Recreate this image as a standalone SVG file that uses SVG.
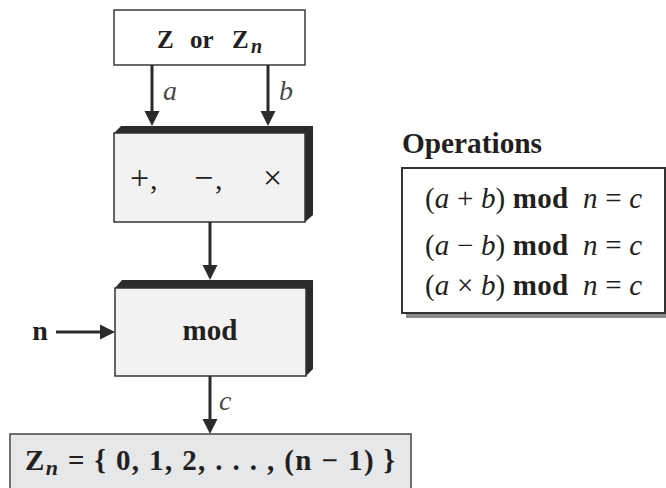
<svg xmlns="http://www.w3.org/2000/svg" width="666" height="488" viewBox="0 0 666 488">
<defs>
<marker id="ah" markerUnits="userSpaceOnUse" markerWidth="16" markerHeight="16" viewBox="0 0 16 16" refX="11" refY="8" orient="auto">
<path d="M0,0.5 L15,8 L0,15.5 Z" fill="#2b2b2b"/>
</marker>
<style>
.t{font-family:"Liberation Serif","Times New Roman",serif;fill:#231f20}
.b{font-weight:bold}
.i{font-style:italic}
.lbl{font-family:"Liberation Serif","Times New Roman",serif;font-style:italic;fill:#4a4a4a;font-size:28px}
.conn{stroke:#2b2b2b;stroke-width:3;fill:none;marker-end:url(#ah)}
.face{fill:#f2f2f2;stroke:#333;stroke-width:1.5}
.ext{fill:#2b2b2b}
</style>
</defs>
<g id="source">
<rect x="114" y="10" width="191" height="55" fill="#ffffff" stroke="#3a3a3a" stroke-width="1.5"/>
<text class="t b" y="48" font-size="25"><tspan x="157">Z</tspan><tspan x="190">or</tspan><tspan x="232">Z</tspan><tspan class="i" x="251" y="53" font-size="20">n</tspan></text>
</g>
<g id="arith">
<polygon class="ext" points="114,133 121,126 313,126 313,215 305,222 305,133"/>
<rect class="face" x="114" y="133" width="191" height="89"/>
<text class="t" y="189" font-size="34"><tspan x="130">+</tspan><tspan x="150" font-size="30">,</tspan><tspan x="194">−</tspan><tspan x="215" font-size="30">,</tspan><tspan x="263">×</tspan></text>
</g>
<g id="mod">
<polygon class="ext" points="115,288 122,280 313,280 313,369 306,376 306,288"/>
<rect class="face" x="115" y="288" width="191" height="88"/>
<text class="t b" x="210" y="340" font-size="29" text-anchor="middle">mod</text>
</g>
<g id="n-input">
<text class="t b" x="40" y="340" font-size="28" text-anchor="middle">n</text>
</g>
<g id="result">
<rect x="10" y="434" width="401" height="70" fill="#e6e7e8" stroke="#444" stroke-width="1.5"/>
<text class="t b" x="25" y="470" font-size="29" textLength="370" lengthAdjust="spacing">Z<tspan class="i" font-size="22" dy="5">n</tspan><tspan dy="-5"> = { 0, 1,  2,  . . . , (n − 1) }</tspan></text>
</g>
<g id="operations">
<text class="t b" x="402" y="153" font-size="29" textLength="140" lengthAdjust="spacingAndGlyphs">Operations</text>
<rect x="406" y="172" width="263" height="146" fill="#8a8a8a"/>
<rect x="402" y="168" width="263" height="145" fill="#ffffff" stroke="#333" stroke-width="2"/>
<text class="t" x="425" y="208" font-size="29" textLength="217" lengthAdjust="spacing" xml:space="preserve">(<tspan class="i">a</tspan> + <tspan class="i">b</tspan>) <tspan class="b">mod</tspan>  <tspan class="i">n</tspan> = <tspan class="i">c</tspan></text>
<text class="t" x="425" y="255" font-size="29" textLength="217" lengthAdjust="spacing" xml:space="preserve">(<tspan class="i">a</tspan> − <tspan class="i">b</tspan>) <tspan class="b">mod</tspan>  <tspan class="i">n</tspan> = <tspan class="i">c</tspan></text>
<text class="t" x="425" y="295" font-size="29" textLength="217" lengthAdjust="spacing" xml:space="preserve">(<tspan class="i">a</tspan> × <tspan class="i">b</tspan>) <tspan class="b">mod</tspan>  <tspan class="i">n</tspan> = <tspan class="i">c</tspan></text>
</g>
<g id="connectors">
<path class="conn" d="M152,65 V122"/>
<path class="conn" d="M268,65 V122"/>
<path class="conn" d="M210,222 V276"/>
<path class="conn" d="M56,332 H111"/>
<path class="conn" d="M210,376 V430"/>
<text class="lbl" x="163" y="100">a</text>
<text class="lbl" x="279" y="100">b</text>
<text class="lbl" x="219" y="410">c</text>
</g>
</svg>
